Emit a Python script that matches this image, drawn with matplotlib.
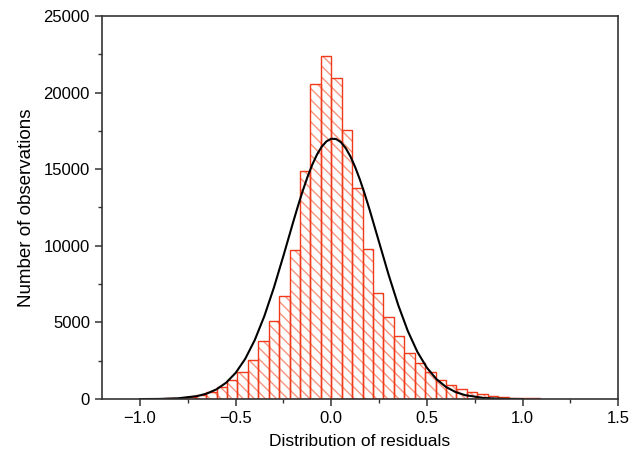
import numpy as np
import matplotlib.pyplot as plt
from matplotlib.ticker import MultipleLocator

# histogram of residuals
bin_width = 0.0545
bin_left = np.arange(-17, 20) * bin_width
counts = [30, 40, 70, 130, 260, 480, 760, 1240, 1780, 2550, 3760, 5090,
          6700, 9730, 14880, 20540, 22400, 20970, 17560, 13750, 9770, 6900,
          5370, 4130, 2980, 2330, 1780, 1240, 910, 630, 440, 330, 220, 160,
          100, 80, 50]

# fitted normal curve
curve_x = [-1.0, -0.9, -0.8, -0.7, -0.65, -0.6, -0.55, -0.5, -0.45, -0.4,
           -0.35, -0.3, -0.25, -0.2, -0.175, -0.15, -0.125, -0.1, -0.075,
           -0.05, -0.025, 0.0, 0.025, 0.05, 0.075, 0.1, 0.125, 0.15, 0.175,
           0.2, 0.25, 0.3, 0.35, 0.4, 0.45, 0.5, 0.55, 0.6, 0.65, 0.7, 0.8,
           0.9, 1.0]
curve_y = [2, 11, 52, 199, 364, 637, 1068, 1712, 2627, 3856, 5416, 7277,
           9362, 11519, 12568, 13561, 14474, 15278, 15950, 16468, 16817,
           16985, 16966, 16762, 16378, 15827, 15126, 14299, 13369, 12362,
           10226, 8092, 6128, 4440, 3079, 2042, 1296, 787, 457, 254, 69,
           16, 3]

plt.rcParams['font.family'] = ['Liberation Sans', 'DejaVu Sans']
plt.rcParams['hatch.linewidth'] = 1.0

fig = plt.figure(figsize=(6.4, 4.53), dpi=100)
ax = fig.add_axes([0.159, 0.119, 0.807, 0.846])

# hatch fill in a lighter red, outlines in stronger red
ax.bar(bin_left, counts, width=bin_width, align='edge', color='none',
       edgecolor='#f7957f', hatch='\\\\\\', linewidth=0)
ax.bar(bin_left, counts, width=bin_width, align='edge', fill=False,
       edgecolor='#f03a1a', linewidth=1.0)

ax.plot(curve_x, curve_y, color='black', linewidth=1.5)

ax.set_xlim(-1.2, 1.5)
ax.set_ylim(0, 25000)
ax.xaxis.set_major_locator(MultipleLocator(0.5))
ax.xaxis.set_minor_locator(MultipleLocator(0.25))
ax.yaxis.set_major_locator(MultipleLocator(5000))
ax.yaxis.set_minor_locator(MultipleLocator(2500))
ax.xaxis.set_major_formatter(plt.FuncFormatter(
    lambda v, p: '0.0' if abs(v) < 1e-9 else f'{v:.1f}'.replace('-', '\u2212')))

for s in ax.spines.values():
    s.set_linewidth(1.2)
    s.set_color('#333333')
ax.tick_params(which='major', length=5, width=1.1, color='#333333',
               labelsize=12, direction='out')
ax.tick_params(which='minor', length=3, width=1.0, color='#333333',
               direction='out')

ax.set_xlabel('Distribution of residuals', fontsize=12.5, labelpad=6)
ax.set_ylabel('Number of observations', fontsize=13.5, labelpad=6)

plt.savefig('out.png', dpi=100)
